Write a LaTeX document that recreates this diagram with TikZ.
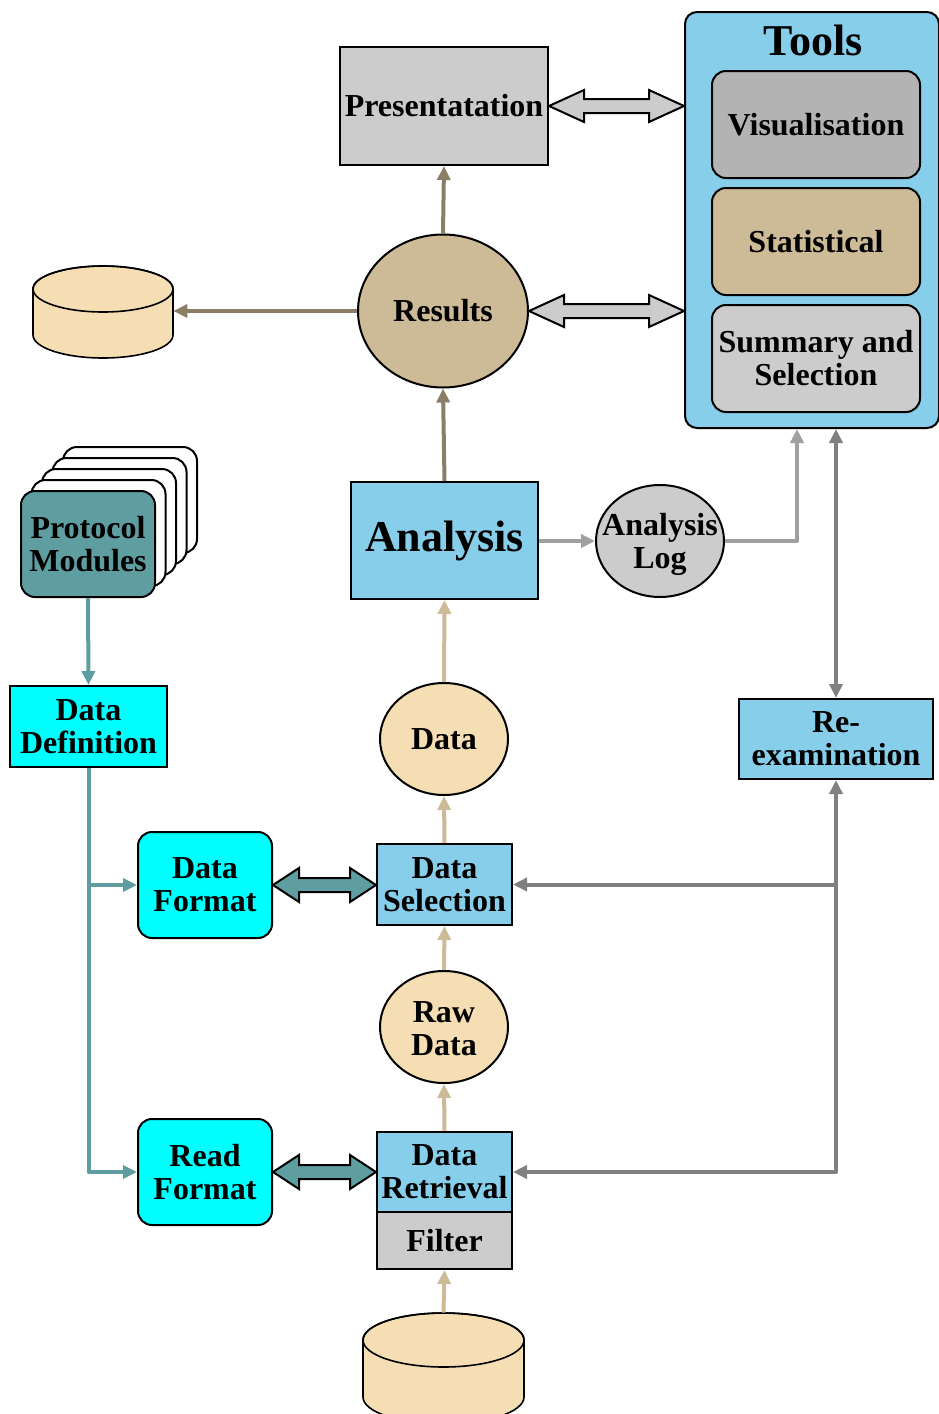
\documentclass[tikz,border=0pt]{standalone}
\usepackage{fontspec}
\setmainfont{Liberation Serif}
\usetikzlibrary{arrows.meta,shapes.geometric,calc}

\definecolor{sky}{HTML}{87CEEB}
\definecolor{aqua}{HTML}{00FFFF}
\definecolor{cadet}{HTML}{5F9EA0}
\definecolor{wheatA}{HTML}{F5DEB3}
\definecolor{wheatC}{RGB}{205,186,150}
\definecolor{wheatD}{RGB}{139,126,102}
\definecolor{grayA}{HTML}{CCCCCC}
\definecolor{grayB}{HTML}{B3B3B3}
\definecolor{lineLight}{HTML}{A0A0A0}
\definecolor{lineMid}{HTML}{808080}

% block (double-headed, outlined) arrow between two points on one horizontal
% #1 start, #2 end, #3 head length, #4 head half-height, #5 shaft half-height, #6 fill
\newcommand\blockarrow[6]{%
  \path let \p1=(#1), \p2=(#2) in
    [draw=black, line width=1pt, fill=#6, line join=miter]
    (\x1,\y1) -- (\x1+#3,\y1+#4) -- (\x1+#3,\y1+#5) -- (\x2-#3,\y1+#5)
    -- (\x2-#3,\y1+#4) -- (\x2,\y1) -- (\x2-#3,\y1-#4) -- (\x2-#3,\y1-#5)
    -- (\x1+#3,\y1-#5) -- (\x1+#3,\y1-#4) -- cycle;}

\begin{document}
\begin{tikzpicture}[x=0.5pt,y=-0.5pt,
  txt/.style={font=\fontsize{16}{16.5}\selectfont\bfseries, align=center, inner sep=0pt},
  bigtxt/.style={txt, font=\fontsize{22}{24}\selectfont\bfseries},
  box/.style={txt, draw=black, line width=1pt, rectangle},
  rbox/.style={box, rounded corners=7pt},
  oval/.style={draw=black, line width=1pt, ellipse, inner sep=0pt},
  flow/.style={line width=2pt, line join=round, >={Triangle[length=7pt,width=6.5pt]}},
  hidden/.style={inner sep=0pt, draw=none}
]
\useasboundingbox (0,0) rectangle (938,1414);

% ---------- tools panel ----------
\node[draw=black, line width=1pt, fill=sky, rounded corners=6pt,
      minimum width=127pt, minimum height=208pt, inner sep=0pt] (tools) at (812,220) {};
\node[bigtxt] (toolsT) at (813,40) {Tools};
\node[rbox, fill=grayB, minimum width=104pt, minimum height=53.5pt] (vis)  at (816,124.5) {Visualisation};
\node[rbox, fill=wheatC, minimum width=104pt, minimum height=53.5pt] (stat) at (816,241.5) {Statistical};
\node[rbox, fill=grayA, minimum width=104pt, minimum height=53.5pt] (summ) at (816,358.5) {Summary and\\Selection};

% ---------- central column ----------
\node[box, fill=grayA, minimum width=104pt, minimum height=59pt] (pres) at (444,106) {Presentatation};
\node[oval, fill=wheatC, minimum width=85pt, minimum height=76.5pt,
      label={[txt]center:Results}] (res) at (443,311) {};
\node[box, fill=sky, minimum width=93.5pt, minimum height=58.5pt, font=\fontsize{22}{24}\selectfont\bfseries] (anal) at (444.5,540.5) {Analysis};
\node[oval, fill=grayA, minimum width=64pt, minimum height=56pt,
      label={[txt, yshift=-1.5pt]center:{Analysis\\Log}}] (log) at (660,541) {};
\node[oval, fill=wheatA, minimum width=64pt, minimum height=56pt,
      label={[txt]center:Data}] (data) at (444,739) {};
\node[box, fill=sky, minimum width=67.5pt, minimum height=40.5pt] (dsel) at (444.5,884.5) {Data\\Selection};
\node[oval, fill=wheatA, minimum width=64pt, minimum height=56pt,
      label={[txt, yshift=-1pt]center:{Raw\\Data}}] (raw) at (444,1027) {};
\node[box, fill=sky, minimum width=67.5pt, minimum height=40pt] (dret) at (444.5,1172) {Data\\Retrieval};
\node[box, fill=grayA, minimum width=67.5pt, minimum height=28.5pt] (filt) at (444.5,1240.5) {Filter};

% ---------- re-examination ----------
\node[box, fill=sky, minimum width=97pt, minimum height=40pt] (reex) at (836,739) {Re-\\examination};

% ---------- left column ----------
\foreach \k in {4,3,2,1}
  \node[rbox, fill=white, minimum width=67pt, minimum height=53pt] (pm\k) at (88+10.5*\k,544-11*\k) {};
\node[rbox, fill=cadet, minimum width=67pt, minimum height=53pt] (proto) at (88,544) {Protocol\\Modules};
\node[box, fill=aqua, minimum width=78.5pt, minimum height=40.5pt] (ddef) at (88.5,726.5) {Data\\Definition};
\node[rbox, fill=aqua, minimum width=67pt, minimum height=53pt] (dfmt) at (205,885) {Data\\Format};
\node[rbox, fill=aqua, minimum width=67pt, minimum height=53pt] (rfmt) at (205,1172) {Read\\Format};

% ---------- storage cylinders ----------
\filldraw[fill=wheatA, draw=black, line width=0.8pt]
  (33,289) -- (33,335) arc[start angle=180, end angle=0, x radius=70, y radius=23]
  -- (173,289) arc[start angle=0, end angle=-180, x radius=70, y radius=23] -- cycle;
\draw[line width=0.8pt] (103,289) ellipse[x radius=70, y radius=23];
\node[hidden, minimum width=70pt, minimum height=46pt] (cylL) at (103,312) {};

\filldraw[fill=wheatA, draw=black, line width=0.8pt]
  (363,1340) -- (363,1397) arc[start angle=180, end angle=0, x radius=80.5, y radius=27]
  -- (524,1340) arc[start angle=0, end angle=-180, x radius=80.5, y radius=27] -- cycle;
\draw[line width=0.8pt] (443.5,1340) ellipse[x radius=80.5, y radius=27];
\node[hidden, minimum width=80.5pt, minimum height=55.5pt] (cylB) at (443.5,1368.5) {};

% ---------- block arrows ----------
\blockarrow{pres.east}{pres.east -| tools.west}{17.5pt}{8pt}{3.5pt}{grayA}
\blockarrow{res.east}{res.east -| tools.west}{17.5pt}{8pt}{3.5pt}{grayA}
\blockarrow{dfmt.east}{dsel.west}{13pt}{8.5pt}{3.5pt}{cadet}
\blockarrow{rfmt.east}{dret.west}{13pt}{8.5pt}{3.5pt}{cadet}

% ---------- result flow ----------
\draw[flow, wheatD, ->] (res.north) -- (pres.south);
\draw[flow, wheatD, ->] (res.west) -- (res.west -| cylL.east);
\draw[flow, wheatD, ->] (anal.north) -- (res.south);

% ---------- data flow ----------
\draw[flow, wheatC, ->] (cylB.north) -- (filt.south);
\draw[flow, wheatC, ->] (dret.north) -- (raw.south);
\draw[flow, wheatC, ->] (raw.north) -- (dsel.south);
\draw[flow, wheatC, ->] (dsel.north) -- (data.south);
\draw[flow, wheatC, ->] (data.north) -- (anal.south);

% ---------- analysis log ----------
\draw[flow, lineLight, ->] (anal.east |- log.west) -- (log.west);
\draw[flow, lineLight, ->] (log.east) -| ([xshift=-7.5pt]tools.south);

% ---------- re-examination loop ----------
\draw[flow, lineMid, <->] (reex.north) -- (reex.north |- tools.south);
\draw[flow, lineMid, <->] (dret.east) -| (reex.south);
\draw[flow, lineMid, ->] (reex.south |- dsel.east) -- (dsel.east);

% ---------- definitions ----------
\draw[flow, cadet, ->] (proto.south) -- (ddef.north);
\draw[flow, cadet, ->] (ddef.south) |- (rfmt.west);
\draw[flow, cadet, ->] (ddef.south |- dfmt.west) -- (dfmt.west);
\end{tikzpicture}
\end{document}
